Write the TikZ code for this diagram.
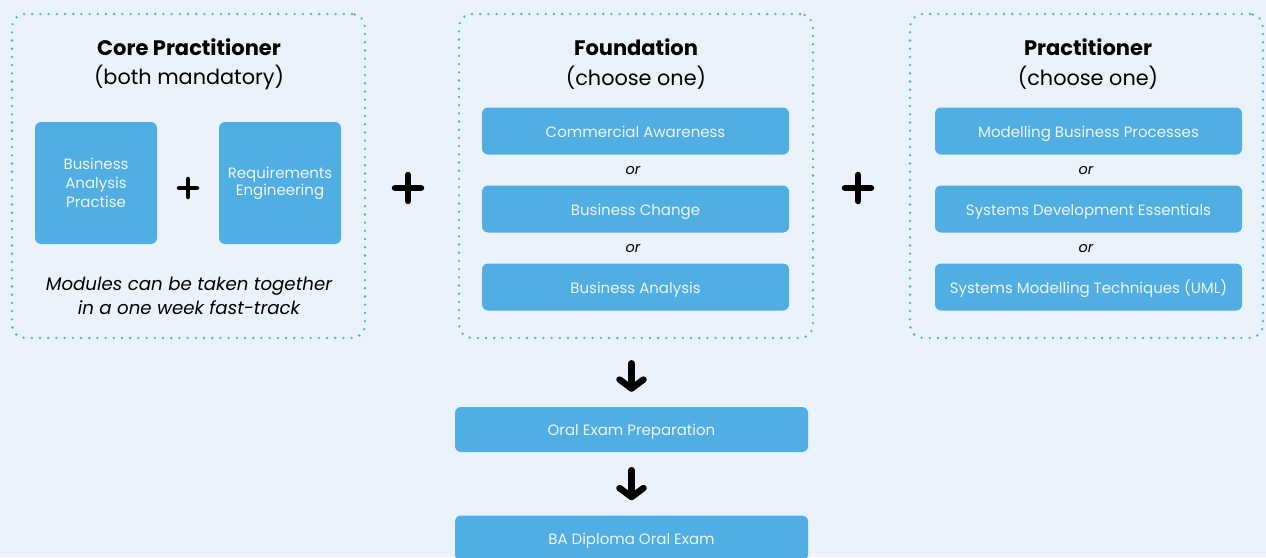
\documentclass[tikz,border=0pt]{standalone}
\usepackage{fontspec}
\setmainfont{Poppins}
\usetikzlibrary{arrows.meta}

\definecolor{pagebg}{HTML}{EAF2FB}
\definecolor{modblue}{HTML}{50AEE2}
\definecolor{dotblue}{HTML}{4DAEE6}
\definecolor{modtext}{HTML}{EEF6FD}

\tikzset{
  dotframe/.style={draw=dotblue, line width=2.6pt, line cap=round,
    dash pattern=on 0pt off 8.2pt, rounded corners=13pt},
  modbox/.style={fill=modblue, rounded corners=6pt, text=modtext,
    align=center, font=\fontsize{15}{19}\selectfont, inner sep=0pt},
  linebox/.style={modbox, text height=12.5pt, text depth=0.5pt},
  grouptitle/.style={font=\fontsize{21}{24}\selectfont\bfseries},
  groupsub/.style={font=\fontsize{20.8}{24}\selectfont},
  ortext/.style={font=\fontsize{14.5}{16}\selectfont\itshape},
  bigdown/.style={line width=6.5pt, line cap=round,
    -{Straight Barb[length=9pt,width=24pt,round]}},
  plussign/.pic={\draw[line width=#1, line cap=round] (-13,0) -- (13,0) (0,-13) -- (0,13);},
  smallplus/.pic={\draw[line width=4.5pt, line cap=round] (-9,0) -- (9,0) (0,-9) -- (0,9);}
}

\begin{document}
\begin{tikzpicture}[x=1pt, y=-1pt]
    \fill[pagebg] (0,0) rectangle (1266,557);
    \useasboundingbox (0,0) rectangle (1266,557);

    % core practitioner
    \node[dotframe, minimum width=353pt, minimum height=324pt] (frameA) at (188.5,176) {};
    \node[grouptitle] (titleA) at (189,47) {Core Practitioner};
    \node[groupsub] (subA) at (189,77.5) {(both mandatory)};
    \node[modbox, minimum width=122pt, minimum height=122pt] (bap) at (96,183) {Business\\Analysis\\Practise};
    \node[modbox, minimum width=122pt, minimum height=122pt, font=\fontsize{15}{17}\selectfont] (req) at (280,183) {Requirements\\Engineering};
    \pic at (188,188) {smallplus};
    \node[align=center, font=\fontsize{18.2}{24}\selectfont\itshape] (note) at (189,296)
        {Modules can be taken together\\in a one week fast-track};

    % foundation
    \node[dotframe, minimum width=354pt, minimum height=324pt] (frameB) at (636,176) {};
    \node[grouptitle] (titleB) at (636,47) {Foundation};
    \node[groupsub] (subB) at (636,77.5) {(choose one)};
    \node[linebox, minimum width=307pt, minimum height=47pt] (comm) at (635.5,131) {Commercial Awareness};
    \node[ortext] (orB1) at (633,171) {or};
    \node[linebox, minimum width=307pt, minimum height=47pt] (change) at (635.5,209) {Business Change};
    \node[ortext] (orB2) at (633,249) {or};
    \node[linebox, minimum width=307pt, minimum height=47pt] (analysis) at (635.5,287) {Business Analysis};

    % practitioner
    \node[dotframe, minimum width=353pt, minimum height=324pt] (frameC) at (1086.5,176) {};
    \node[grouptitle] (titleC) at (1088,47) {Practitioner};
    \node[groupsub] (subC) at (1088,77.5) {(choose one)};
    \node[linebox, minimum width=307pt, minimum height=47pt] (mbp) at (1088.5,131) {Modelling Business Processes};
    \node[ortext] (orC1) at (1086,171) {or};
    \node[linebox, minimum width=307pt, minimum height=47pt] (sde) at (1088.5,209) {Systems Development Essentials};
    \node[ortext] (orC2) at (1086,249) {or};
    \node[linebox, minimum width=307pt, minimum height=47pt] (smt) at (1088.5,287) {Systems Modelling Techniques (UML)};

    % plus signs between the groups
    \pic at (408,188) {plussign=6.5pt};
    \pic at (858,188) {plussign=6.5pt};

    % exam steps
    \node[linebox, minimum width=353pt, minimum height=45pt] (oral) at (631.5,429.5) {Oral Exam Preparation};
    \node[linebox, minimum width=353pt, minimum height=45pt] (diploma) at (631.5,538) {BA Diploma Oral Exam};

    \draw[bigdown, shorten <=24pt, shorten >=15pt] (frameB.south -| oral.north) -- (oral.north);
    \draw[bigdown, shorten <=18pt, shorten >=15pt] (oral.south) -- (diploma.north);
\end{tikzpicture}
\end{document}
